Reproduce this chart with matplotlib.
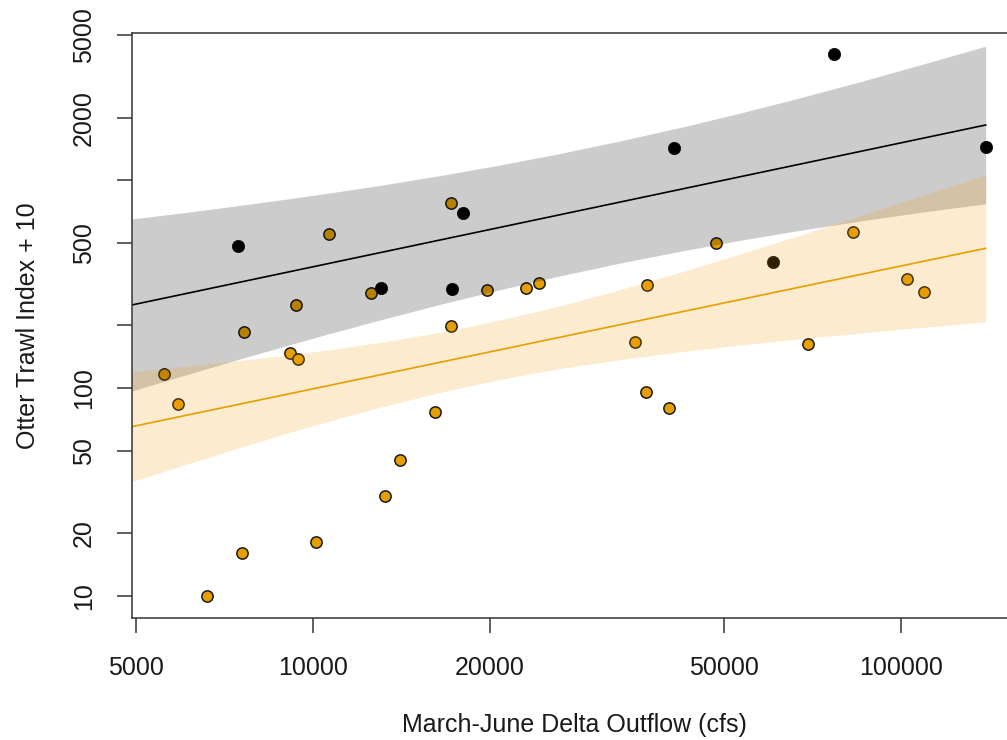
import matplotlib
matplotlib.use('Agg')
import matplotlib.pyplot as plt
from matplotlib.ticker import FixedLocator, FixedFormatter, NullLocator

plt.rcParams['font.family'] = ['Liberation Sans', 'DejaVu Sans']

# ---------------- data ----------------
orange_x = [5569, 5878, 6586, 7563, 7631, 9127, 9419, 9333, 10095, 10647,
            12527, 13268, 14029, 16112, 17177, 17177, 19730, 22991, 24233,
            35247, 36950, 36860, 40254, 48397, 69491, 82985, 102540, 109600]
orange_y = [117.5, 84.1, 10, 16.1, 186.1, 148.0, 137.7, 249.6, 18.25, 549.3,
            287.5, 30.1, 45.2, 77.0, 781, 199.6, 295.7, 303.6, 319.6,
            166.1, 312.3, 96.0, 80.1, 497.1, 162.4, 565.3, 334.8, 288.8]

black_x = [7443, 13025, 17200, 17945, 41135, 60661, 76930, 139400]
black_y = [483.6, 303.0, 300.4, 695.7, 1436, 402.8, 4033, 1449]

# fitted lines (end points)
black_fit_x = [4910, 139400]
black_fit_y = [251, 1843]
orange_fit_x = [4910, 139400]
orange_fit_y = [65.2, 470.3]

# confidence bands sampled along x
band_x = [4910, 5932, 7216, 8777, 10676, 12989, 16430, 20785,
          26293, 33266, 42090, 53245, 67350, 85180, 107770, 139400]
gray_hi = [650.8, 693.9, 745.6, 803.0, 868.7, 944.1, 1052.2, 1183.2,
           1344, 1545, 1793, 2102, 2491, 2977, 3583, 4411]
gray_lo = [96.8, 113.6, 133.7, 156.8, 183.1, 212.6, 252.7, 297.4,
           346.5, 399.3, 455.0, 513.9, 574.1, 635.9, 700.0, 770.0]
orange_hi = [119.9, 126.5, 134.0, 142.7, 153.0, 165.9, 185.5, 212.4,
             248.8, 297.4, 360.6, 441.6, 544.4, 674.1, 837.5, 1062.6]
orange_lo = [35.5, 42.0, 50.0, 59.2, 69.5, 80.9, 95.4, 110.1,
             124.1, 137.1, 149.3, 161.0, 172.4, 183.8, 195.4, 208.1]

x_ticks = [5000, 10000, 20000, 50000, 100000]
x_tick_labels = ['5000', '10000', '20000', '50000', '100000']
y_ticks = [10, 20, 50, 100, 200, 500, 1000, 2000, 5000]
y_tick_labels = ['10', '20', '50', '100', '', '500', '', '2000', '5000']

# ---------------- figure ----------------
fig = plt.figure(figsize=(10.07, 7.40), dpi=100)
ax = fig.add_axes([0.1308, 0.1653, 0.8801, 0.7901])
ax.set_xscale('log')
ax.set_yscale('log')
ax.set_xlim(4909, 158200)
ax.set_ylim(7.863, 5105)

orange = '#E69F00'
band_orange = (242 / 255, 157 / 255, 15 / 255)

ax.scatter(orange_x, orange_y, s=66, c=orange, edgecolors='#1a1a1a',
           linewidths=1.1, zorder=2)
ax.scatter(black_x, black_y, s=78, c='black', edgecolors='black',
           linewidths=0.5, zorder=2)

ax.fill_between(band_x, gray_lo, gray_hi, color='black', alpha=0.2,
                linewidth=0, zorder=3)
ax.fill_between(band_x, orange_lo, orange_hi, color=band_orange, alpha=0.2,
                linewidth=0, zorder=4)

ax.plot(black_fit_x, black_fit_y, color='black', lw=1.2, zorder=5)
ax.plot(orange_fit_x, orange_fit_y, color=orange, lw=1.2, zorder=5)

# axes styling
for side in ['left', 'bottom', 'top']:
    ax.spines[side].set_color('#333333')
    ax.spines[side].set_linewidth(1.1)
    ax.spines[side].set_zorder(10)
ax.spines['right'].set_visible(False)

ax.xaxis.set_major_locator(FixedLocator(x_ticks))
ax.xaxis.set_major_formatter(FixedFormatter(x_tick_labels))
ax.xaxis.set_minor_locator(NullLocator())
ax.yaxis.set_major_locator(FixedLocator(y_ticks))
ax.yaxis.set_major_formatter(FixedFormatter(y_tick_labels))
ax.yaxis.set_minor_locator(NullLocator())

ax.tick_params(axis='both', direction='out', length=10.8, width=1.1,
               color='#333333', labelsize=18, pad=17, labelcolor='#1a1a1a')
ax.tick_params(axis='y', pad=15)
for lab in ax.get_yticklabels():
    lab.set_rotation(90)
    lab.set_va('center')

ax.set_xlabel('March-June Delta Outflow (cfs)', fontsize=18, color='#1a1a1a')
ax.xaxis.set_label_coords(0.5, -0.1835)
ax.xaxis.label.set_va('center')
ax.set_ylabel('Otter Trawl Index + 10', fontsize=18, color='#1a1a1a')
ax.yaxis.set_label_coords(-0.117, 0.5)
ax.yaxis.label.set_va('center')

fig.savefig('out.png', dpi=100)
